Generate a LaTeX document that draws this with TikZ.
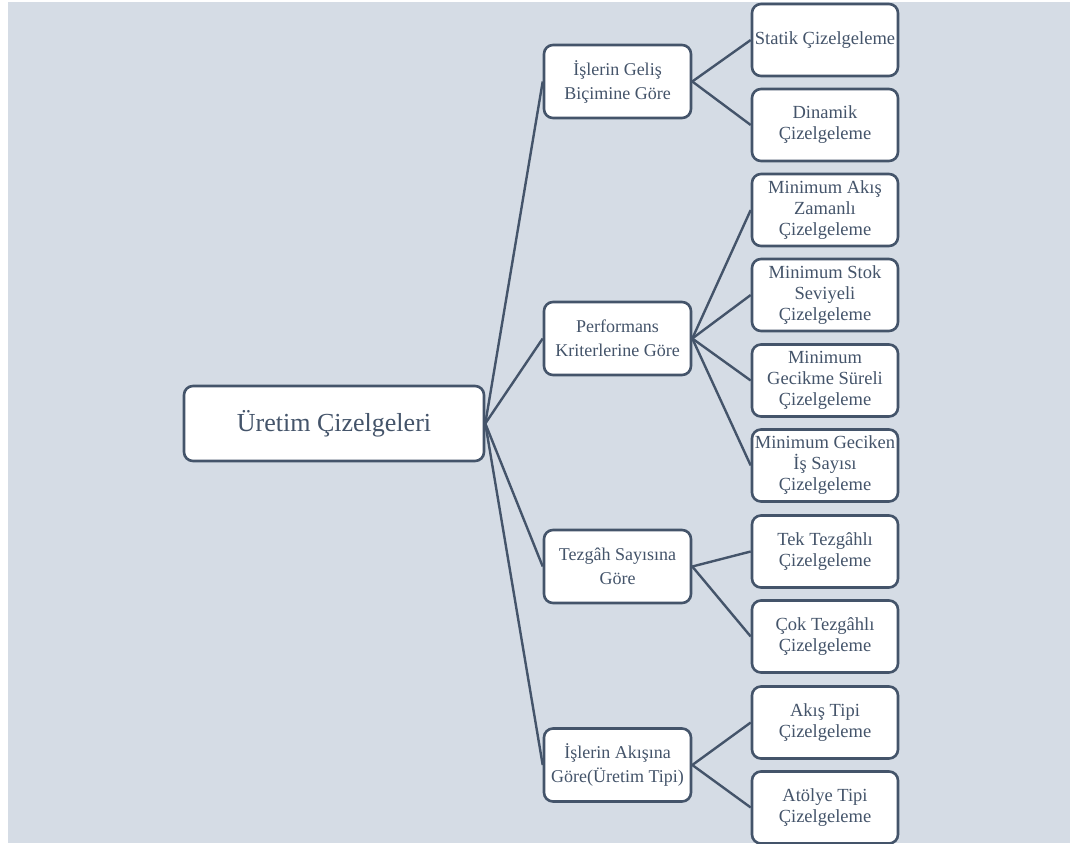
\documentclass[tikz,border=0pt]{standalone}
\usepackage{fontspec}
\setmainfont{Liberation Serif}
\definecolor{panel}{HTML}{D5DCE5}
\definecolor{ink}{HTML}{44546A}
\begin{document}
\begin{tikzpicture}[x=1pt,y=-1pt,
  box/.style={draw=ink, line width=2.6pt, fill=white, rounded corners=9pt,
    text=ink, align=center, inner sep=0pt},
  rootbox/.style={box, minimum width=300pt, minimum height=75pt,
    font=\fontsize{26}{30}\selectfont},
  midbox/.style={box, minimum width=147pt, minimum height=73pt,
    font=\fontsize{18}{24}\selectfont},
  leafbox/.style={box, minimum width=146pt, minimum height=72pt,
    font=\fontsize{18.5}{21}\selectfont},
  link/.style={draw=ink, line width=2.4pt}]
\useasboundingbox (0,0) rectangle (1070,843);
\fill[panel] (8,2) rectangle (1070,843);
\begin{scope}
\clip (0,0) rectangle (1070,843);
% root
\node[rootbox] (root) at (334,423.5) {Üretim Çizelgeleri};
% second level
\node[midbox] (gelis) at (617.5,81.5) {İşlerin Geliş\\Biçimine Göre};
\node[midbox] (perf) at (617.5,338.5) {Performans\\Kriterlerine Göre};
\node[midbox] (tezgah) at (617.5,566.5) {Tezgâh Sayısına\\Göre};
\node[midbox] (akis) at (617.5,765) {İşlerin Akışına\\Göre(Üretim Tipi)};
% leaves
\node[leafbox] (statik) at (825,40) {Statik Çizelgeleme};
\node[leafbox] (dinamik) at (825,125) {Dinamik\\Çizelgeleme};
\node[leafbox] (minakis) at (825,210) {Minimum Akış\\Zamanlı\\Çizelgeleme};
\node[leafbox] (minstok) at (825,295) {Minimum Stok\\Seviyeli\\Çizelgeleme};
\node[leafbox] (mingec) at (825,380.5) {Minimum\\Gecikme Süreli\\Çizelgeleme};
\node[leafbox] (mingecis) at (825,465.5) {Minimum Geciken\\İş Sayısı\\Çizelgeleme};
\node[leafbox] (tek) at (825,551.5) {Tek Tezgâhlı\\Çizelgeleme};
\node[leafbox] (cok) at (825,636.5) {Çok Tezgâhlı\\Çizelgeleme};
\node[leafbox] (akistipi) at (825,722.5) {Akış Tipi\\Çizelgeleme};
\node[leafbox] (atolye) at (825,807.5) {Atölye Tipi\\Çizelgeleme};
% connectors
\foreach \m in {gelis,perf,tezgah,akis}
  \draw[link] (root.east) -- (\m.west);
\foreach \l in {statik,dinamik} \draw[link] (gelis.east) -- (\l.west);
\foreach \l in {minakis,minstok,mingec,mingecis} \draw[link] (perf.east) -- (\l.west);
\foreach \l in {tek,cok} \draw[link] (tezgah.east) -- (\l.west);
\foreach \l in {akistipi,atolye} \draw[link] (akis.east) -- (\l.west);
\end{scope}
\end{tikzpicture}
\end{document}
